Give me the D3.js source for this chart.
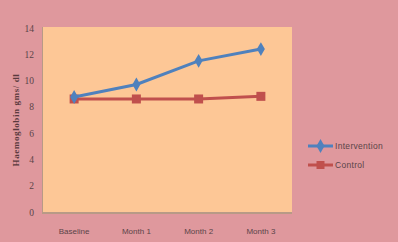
<!DOCTYPE html>
<html>
<head>
<meta charset="utf-8">
<script src="https://cdnjs.cloudflare.com/ajax/libs/d3/7.8.5/d3.min.js"></script>
<style>
  body { margin: 0; background: #df989d; }
  svg { display: block; }
  .tick text { font-family: "Liberation Sans", Arial, sans-serif; fill: #5a4448; }
</style>
</head>
<body>
<div id="chart"></div>
<script>
// data
var categories = ["Baseline", "Month 1", "Month 2", "Month 3"];
var intervention = [8.75, 9.7, 11.5, 12.4];
var control = [8.6, 8.6, 8.6, 8.8];
var y_ticks = [0, 2, 4, 6, 8, 10, 12, 14];
var series_names = ["Intervention", "Control"];

var width = 398, height = 242;
var plot = {left: 43, right: 292, top: 27, bottom: 212};

var svg = d3.select("#chart")
    .append("svg")
        .attr("width", width)
        .attr("height", height);

svg.append("rect")
    .attr("width", width)
    .attr("height", height)
    .attr("fill", "#df989d");

var x_scale = d3.scaleBand()
    .domain(categories)
    .range([plot.left, plot.right]);
var y_scale = d3.scaleLinear()
    .domain([0, 14])
    .range([plot.bottom, plot.top + 1]);

// plot area with a soft shadow edge
svg.append("rect")
    .attr("x", plot.left - 1)
    .attr("y", plot.top)
    .attr("width", plot.right - plot.left + 1)
    .attr("height", plot.bottom - plot.top + 2)
    .attr("fill", "#b89a86");
svg.append("rect")
    .attr("x", plot.left)
    .attr("y", plot.top)
    .attr("width", plot.right - plot.left)
    .attr("height", plot.bottom - plot.top)
    .attr("fill", "#fdc796");

// axes
var y_axis = svg.append("g")
    .attr("transform", "translate(" + (plot.left - 9) + ",0)")
    .call(d3.axisLeft(y_scale).tickValues(y_ticks).tickSize(0).tickPadding(0));
y_axis.select(".domain").remove();
y_axis.selectAll("text")
    .style("font-family", "'Liberation Serif', serif")
    .style("font-size", "9.5px");

var x_axis = svg.append("g")
    .attr("transform", "translate(0," + (plot.bottom + 16) + ")")
    .call(d3.axisBottom(x_scale).tickSize(0).tickPadding(0));
x_axis.select(".domain").remove();
x_axis.selectAll("text")
    .style("font-size", "8px");

svg.append("text")
    .attr("transform", "translate(19,120)rotate(-90)")
    .attr("text-anchor", "middle")
    .attr("font-family", "'Liberation Serif', serif")
    .attr("font-weight", "bold")
    .attr("font-size", "9px")
    .attr("letter-spacing", "0.6px")
    .attr("fill", "#5a3a3e")
    .text("Haemoglobin  gms/ dl");

// lines
var valueline = d3.line()
    .x(function(d, i) { return x_scale(categories[i]) + x_scale.bandwidth() / 2; })
    .y(function(d) { return y_scale(d); });

svg.append("path")
    .datum(control)
    .attr("fill", "none")
    .attr("stroke", "#c0504d")
    .attr("stroke-width", 3)
    .attr("d", valueline);

svg.selectAll(".ctrl")
    .data(control)
    .enter().append("rect")
        .attr("x", function(d, i) { return x_scale(categories[i]) + x_scale.bandwidth() / 2 - 4.5; })
        .attr("y", function(d) { return y_scale(d) - 4.5; })
        .attr("width", 9)
        .attr("height", 9)
        .attr("fill", "#c0504d");

svg.append("path")
    .datum(intervention)
    .attr("fill", "none")
    .attr("stroke", "#4f81bd")
    .attr("stroke-width", 3)
    .attr("d", valueline);

var diamond = d3.symbol().type(d3.symbolDiamond).size(55);
svg.selectAll(".intv")
    .data(intervention)
    .enter().append("path")
        .attr("d", diamond)
        .attr("transform", function(d, i) {
            return "translate(" + (x_scale(categories[i]) + x_scale.bandwidth() / 2) + "," + y_scale(d) + ")";
        })
        .attr("fill", "#4f81bd");

// legend
var legend_colors = ["#4f81bd", "#c0504d"];
var legend = svg.selectAll(".legend")
    .data(series_names)
    .enter().append("g")
        .attr("transform", function(d, i) { return "translate(308," + (146 + i * 19) + ")"; });
legend.append("line")
    .attr("x1", 0).attr("x2", 25)
    .attr("stroke", function(d, i) { return legend_colors[i]; })
    .attr("stroke-width", 3);
legend.append("path")
    .attr("d", function(d, i) { return i == 0 ? diamond() : "M-4,-4h8v8h-8z"; })
    .attr("transform", "translate(12.5,0)")
    .attr("fill", function(d, i) { return legend_colors[i]; });
legend.append("text")
    .attr("x", 27)
    .attr("y", 3)
    .attr("font-family", "'Liberation Sans', Arial, sans-serif")
    .attr("font-size", "8.5px")
    .attr("letter-spacing", "0.3px")
    .attr("fill", "#5a4448")
    .text(function(d) { return d; });
</script>
</body>
</html>
